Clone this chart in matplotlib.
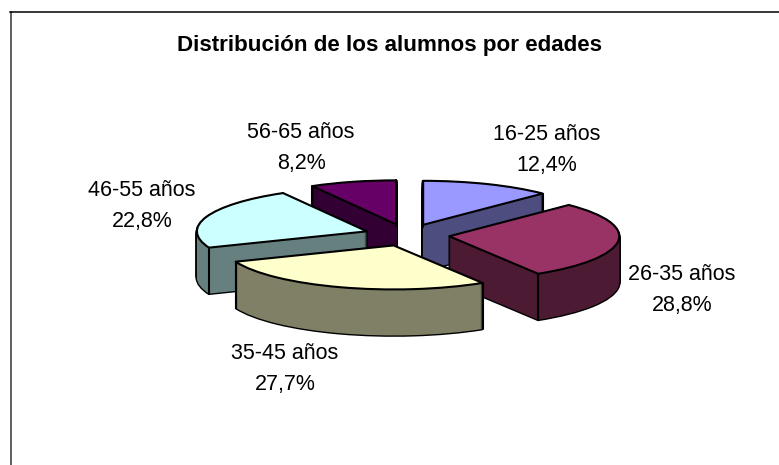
import numpy as np
import matplotlib
matplotlib.use('Agg')
import matplotlib.pyplot as plt
from matplotlib.lines import Line2D

plt.rcParams['font.family'] = ['Liberation Sans', 'DejaVu Sans']

categorias = ['16-25 años', '26-35 años', '35-45 años', '46-55 años', '56-65 años']
porcentajes = [12.4, 28.8, 27.7, 22.8, 8.2]
colores = ['#9999FF', '#993366', '#FFFFCC', '#CCFFFF', '#660066']
colores_lado = ['#4D4D80', '#4D1A33', '#808066', '#668080', '#330033']
pos_etiquetas = [(547, 150), (682, 290), (285, 369), (142, 206), (301, 148)]

W, H = 779, 465
cx, cy = 407, 235   # centro de la tarta en pixeles
rx, ry = 170, 44
prof = 46           # grosor en pixeles

fig = plt.figure(figsize=(W / 100, H / 100), dpi=100)
ax = fig.add_axes([0, 0, 1, 1])

separar = [0.25] * len(porcentajes)
pie_args = dict(explode=separar, startangle=90, counterclock=False)

# capas del lado, de abajo hacia arriba
capas_negras = []
capas_color = []
for k in range(prof, 0, -1):
    centro = (0, -k / ry)
    n, _ = ax.pie(porcentajes, center=centro, colors=colores_lado,
                  wedgeprops=dict(edgecolor='black', linewidth=2.0), **pie_args)
    capas_negras.append(n)
    c, _ = ax.pie(porcentajes, center=centro, colors=colores_lado,
                  wedgeprops=dict(edgecolor='none', linewidth=0), **pie_args)
    capas_color.append(c)

arriba, _ = ax.pie(porcentajes, colors=colores,
                   wedgeprops=dict(edgecolor='black', linewidth=1.5, joinstyle='round'), **pie_args)

# orden de dibujo: primero lo que esta mas atras
orden = sorted(range(len(arriba)), key=lambda i: -arriba[i].center[1])
for rango, i in enumerate(orden):
    base = 10 * (rango + 1)
    for capa in capas_negras:
        capa[i].set_zorder(base)
    for capa in capas_color:
        capa[i].set_zorder(base + 1)
    arriba[i].set_zorder(base + 3)

    # aristas verticales en los extremos del arco
    w = arriba[i]
    for ang in (w.theta1, w.theta2):
        x = w.center[0] + np.cos(np.radians(ang))
        y = w.center[1] + np.sin(np.radians(ang))
        ax.plot([x, x], [y, y - prof / ry], color='black', lw=1.5, zorder=base + 2,
                solid_capstyle='round')

ax.set_aspect('auto')
ax.set_xlim((0 - cx) / rx, (W - cx) / rx)
ax.set_ylim((cy - H) / ry, cy / ry)
ax.axis('off')

for cat, val, (px, py) in zip(categorias, porcentajes, pos_etiquetas):
    txt = cat + '\n' + f'{val:.1f}%'.replace('.', ',')
    fig.text(px / W, 1 - py / H, txt, ha='center', va='center', fontsize=15.5,
             linespacing=1.62, color='black')

fig.text(389.5 / W, 1 - 45 / H, 'Distribución de los alumnos por edades', ha='center', va='center',
         fontsize=16.1, fontweight='bold', color='black')

# marco: solo arriba e izquierda llegan a verse
fig.add_artist(Line2D([10.5 / W, 10.5 / W], [0, 1 - 12.5 / H], color='#333333', lw=1.1))
fig.add_artist(Line2D([10 / W, 1], [1 - 12.5 / H, 1 - 12.5 / H], color='black', lw=1.1))

fig.savefig('out.png', dpi=100)
